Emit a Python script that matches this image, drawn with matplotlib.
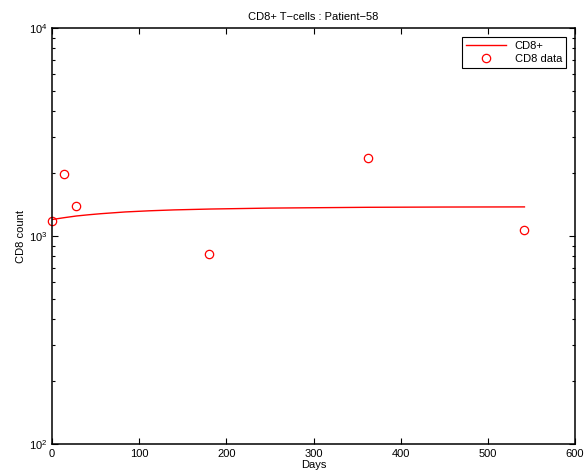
import numpy as np
import matplotlib
matplotlib.use("Agg")
import matplotlib.pyplot as plt
from matplotlib.ticker import LogLocator, NullFormatter

# measured CD8 counts
obs_days = [0, 14, 28, 180, 362, 542]
obs_cd8 = [1180, 1990, 1390, 820, 2380, 1070]

# fitted model curve
fit_days = [0, 14, 28, 42, 56, 84, 112, 140, 182, 250, 362, 450, 542]
fit_cd8 = [1200, 1225, 1248, 1265, 1280, 1305, 1322, 1335, 1348, 1362, 1374, 1378, 1380]

xticks = [0, 100, 200, 300, 400, 500, 600]

plt.rcParams['font.family'] = ['Liberation Sans', 'DejaVu Sans']
plt.rcParams['font.size'] = 8

fig = plt.figure(figsize=(5.85, 4.72), dpi=100)
ax = fig.add_axes([52/585, 1-444/472, (575-52)/585, (444-28)/472])

ax.plot(fit_days, fit_cd8, color='red', lw=1.0, label='CD8+')
ax.plot(obs_days, obs_cd8, 'o', mfc='none', mec='red', ms=6, mew=0.9,
        label='CD8 data', clip_on=False)

ax.set_yscale('log')
ax.set_xlim(0, 600)
ax.set_ylim(100, 10000)
ax.set_xticks(xticks)
ax.yaxis.set_major_locator(LogLocator(base=10, numticks=5))
ax.yaxis.set_minor_locator(LogLocator(base=10, subs=np.arange(2, 10), numticks=10))
ax.yaxis.set_minor_formatter(NullFormatter())
ax.tick_params(which='both', direction='in', top=True, right=True, width=0.8)
ax.tick_params(which='major', length=4)
ax.tick_params(which='minor', length=2)
for s in ax.spines.values():
    s.set_linewidth(1.1)

ax.set_title('CD8+ T\u2212cells : Patient\u221258', fontsize=8, pad=6)
ax.set_xlabel('Days', labelpad=1)
ax.set_ylabel('CD8 count', labelpad=2)

leg = ax.legend(loc='upper right', fancybox=False, edgecolor='black',
                framealpha=1, borderaxespad=0.8, handlelength=3.6,
                borderpad=0.35, labelspacing=0.3)
leg.get_frame().set_linewidth(0.8)

fig.savefig('out.png', dpi=100)
